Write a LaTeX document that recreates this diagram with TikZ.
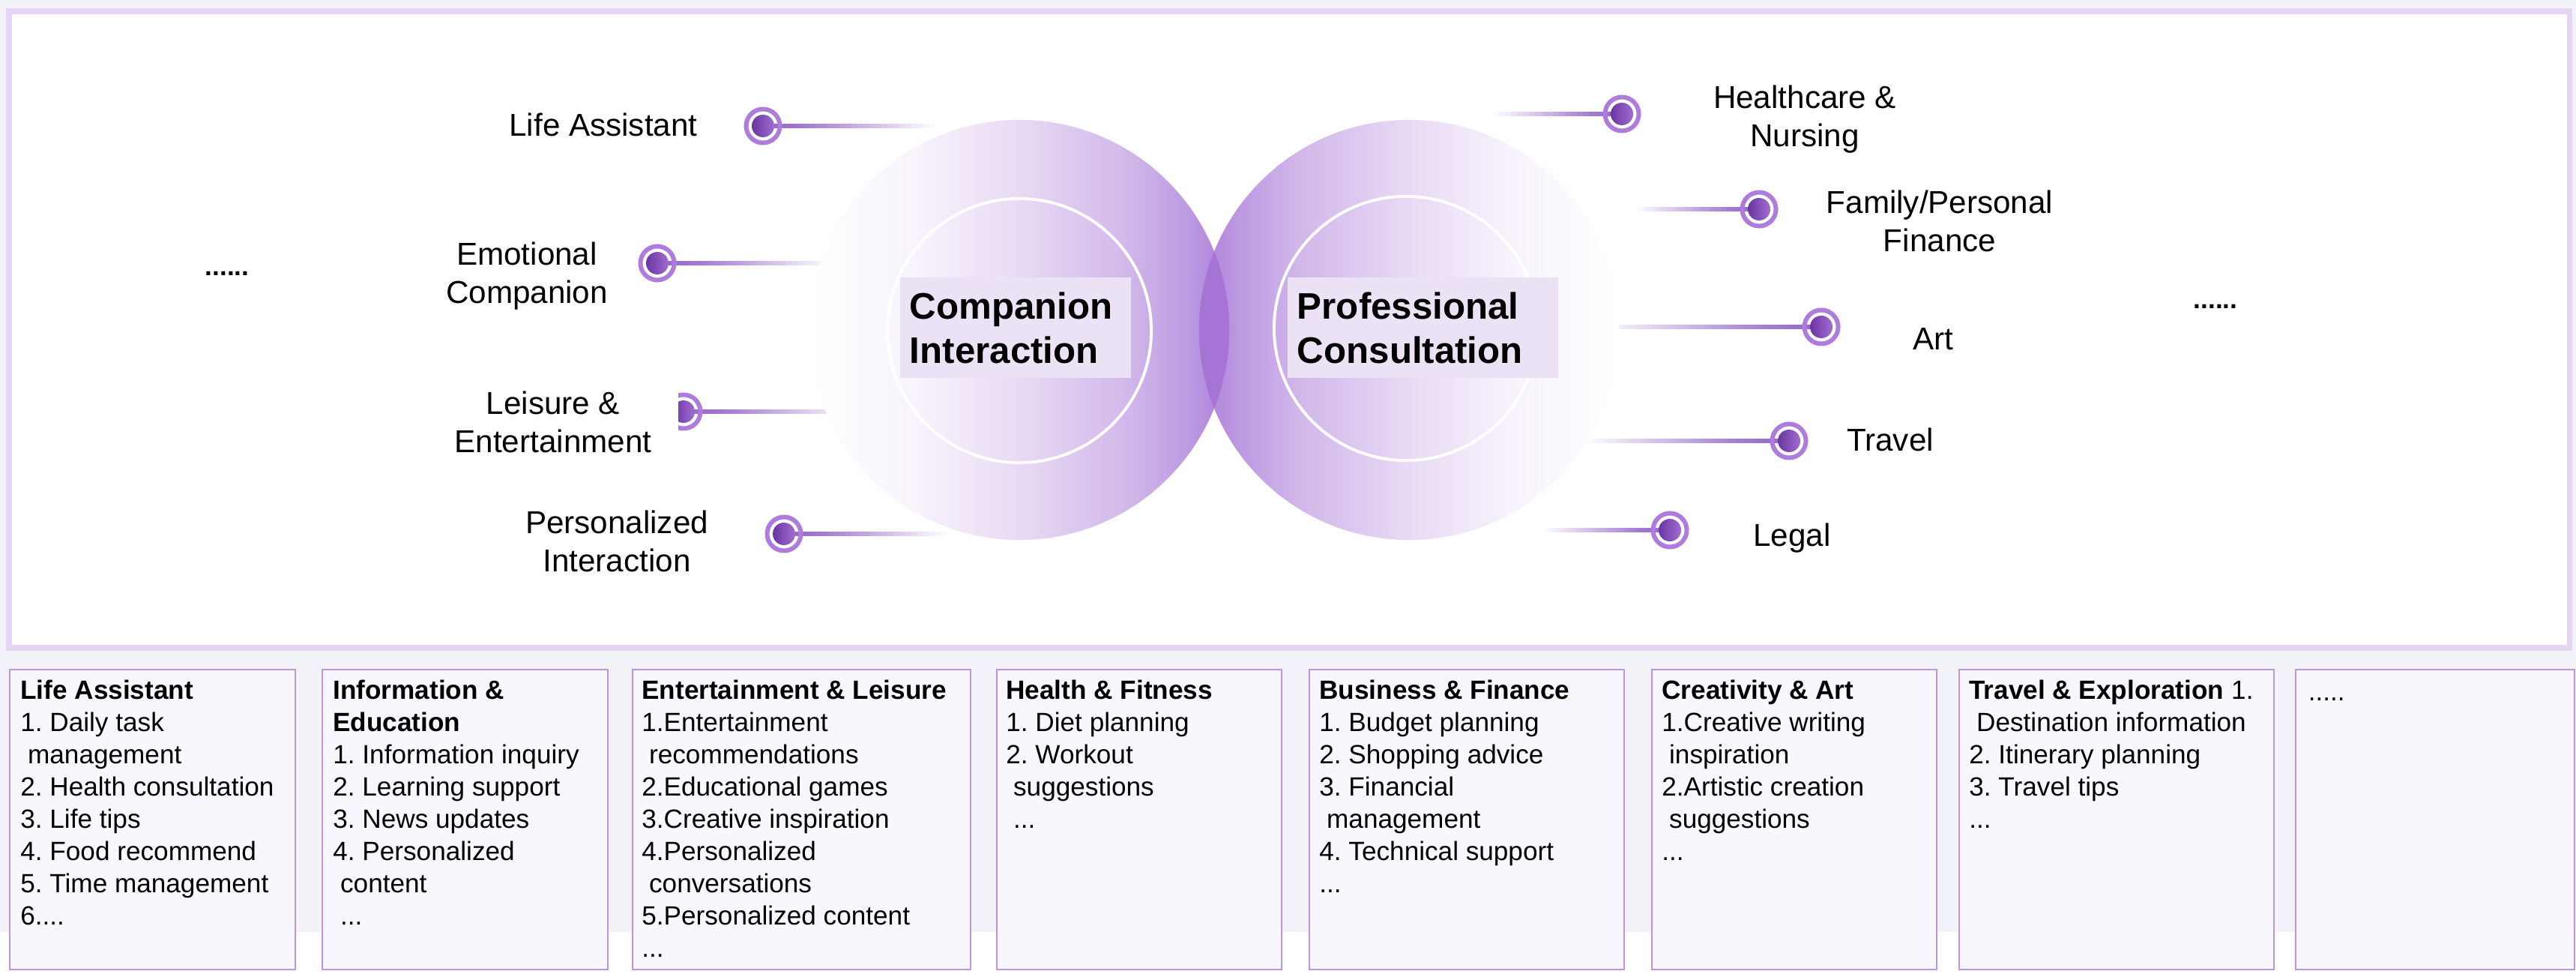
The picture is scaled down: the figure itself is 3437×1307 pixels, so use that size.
\documentclass[tikz,border=0pt]{standalone}
\usepackage{fontspec}
\setmainfont{Liberation Sans}
\frenchspacing
\usetikzlibrary{calc}
\definecolor{bgG}{HTML}{F2F2F9}
\definecolor{frameC}{HTML}{E5D4F3}
\definecolor{boxB}{HTML}{BE92E4}
\definecolor{boxF}{HTML}{F8F7FD}
\definecolor{lineP}{HTML}{9461C8}
\definecolor{lineQ}{HTML}{A57ED3}
\definecolor{ringP}{HTML}{AE7CDC}
\definecolor{dotL}{HTML}{6B35A2}
\definecolor{dotR}{HTML}{A06DD0}
\definecolor{lensC}{HTML}{A574D4}
\definecolor{lblBox}{HTML}{ECE2F6}
\definecolor{cA}{HTML}{F8F3FC}
\definecolor{cB}{HTML}{E8DAF4}
\definecolor{cC}{HTML}{D2B9EA}
\definecolor{cD}{HTML}{BE9AE2}
\definecolor{cE}{HTML}{AD7FDA}
\pgfdeclarehorizontalshading{circL}{100bp}{color(0bp)=(white); color(25bp)=(white); color(37.5bp)=(cA); color(50bp)=(cB); color(62.5bp)=(cC); color(70bp)=(cD); color(75bp)=(cE); color(100bp)=(cE)}
\pgfdeclarehorizontalshading{circR}{100bp}{color(0bp)=(cE); color(25bp)=(cE); color(30bp)=(cD); color(37.5bp)=(cC); color(50bp)=(cB); color(62.5bp)=(cA); color(75bp)=(white); color(100bp)=(white)}
\pgfdeclarehorizontalshading{fadeToR}{100bp}{color(0bp)=(lineP); color(25bp)=(lineP); color(38bp)=(lineQ); color(75bp)=(white); color(100bp)=(white)}
\pgfdeclarehorizontalshading{fadeToL}{100bp}{color(0bp)=(white); color(25bp)=(white); color(62bp)=(lineQ); color(75bp)=(lineP); color(100bp)=(lineP)}
\pgfdeclarelayer{back}
\pgfdeclarelayer{lines}
\pgfdeclarelayer{circ}
\pgfsetlayers{back,lines,circ,main}
\newcommand{\myind}{\hspace*{0.278em}}
\tikzset{
  lbl/.style={font=\fontsize{12}{14.5}\selectfont, inner sep=0pt, align=center},
  ctr/.style={font=\fontsize{14}{16.8}\selectfont\bfseries, fill=lblBox, inner xsep=0.13cm, inner ysep=0pt, align=left, minimum height=1.34cm},
  dotn/.style={circle, minimum size=0.30cm, inner sep=0pt, left color=dotL, right color=dotR},
  ringc/.style={draw=ringP, line width=1.7pt},
  tbox/.style={draw=boxB, fill=boxF, line width=0.7pt, minimum height=4cm, inner sep=0pt},
  btxt/.style={font=\fontsize{10}{12.2}\selectfont, inner sep=0pt, align=left, anchor=north west},
  moredots/.style={font=\fontsize{10}{12}\selectfont\bfseries, inner sep=0pt, anchor=base},
}
\begin{document}
\begin{tikzpicture}[x=0.01cm,y=-0.01cm]
\useasboundingbox (0,0) rectangle (3437,1307);
\begin{pgfonlayer}{back}
  \fill[bgG] (0,0) rectangle (3437,1243);
  \fill[white] (0,1243) rectangle (3437,1307);
  \draw[frameC, line width=2pt, fill=white] (12,15) rectangle (3428,864);
\end{pgfonlayer}

% central circles
\begin{pgfonlayer}{circ}
  \shade[shading=circL] (1360,440) circle (2.8cm);
  \shade[shading=circR] (1880,440) circle (2.8cm);
  \begin{scope}
    \clip (1360,440) circle (2.8cm);
    \fill[lensC] (1880,440) circle (2.8cm);
  \end{scope}
  \draw[white, line width=1.1pt] (1360,441) circle (1.76cm);
  \draw[white, line width=1.1pt] (1876,438) circle (1.76cm);
\end{pgfonlayer}

\node[ctr, text width=2.82cm] (cI) at (1355,437) {Companion\\Interaction};
\node[ctr, text width=3.35cm] (pC) at (1898.5,437) {Professional\\Consultation};

% dots
\node[dotn] (dLA) at (1018,168) {};
\node[dotn] (dEC) at (877,351) {};
\node[dotn] (dPI) at (1046,712) {};
\node[dotn] (dHN) at (2164,152) {};
\node[dotn] (dFP) at (2347,279) {};
\node[dotn] (dAR) at (2430,436) {};
\node[dotn] (dTR) at (2387,588) {};
\node[dotn] (dLG) at (2228,707) {};
\foreach \n in {LA,EC,PI,HN,FP,AR,TR,LG}{
  \draw[ringc] (d\n.center) circle (0.225cm);
}
\begin{scope}
  \clip (905,500) rectangle (960,600);
  \node[dotn] (dLE) at (912,549) {};
  \draw[ringc] (dLE.center) circle (0.225cm);
\end{scope}

% connector ends
\coordinate (eLA) at (1250,168);
\coordinate (eEC) at (1113,351);
\coordinate (eLE) at (1142,549);
\coordinate (ePI) at (1264,712);
\coordinate (eHN) at (1991,152);
\coordinate (eFP) at (2180,279);
\coordinate (eAR) at (2129,436);
\coordinate (eTR) at (2113,588);
\coordinate (eLG) at (2057,707);
\begin{pgfonlayer}{lines}
  \foreach \n in {LA,EC,LE,PI}{
    \shade[shading=fadeToR] ($(d\n.center)+(0,-2.5)$) rectangle ($(e\n)+(0,2.5)$);
  }
  \foreach \n in {HN,FP,AR,TR,LG}{
    \shade[shading=fadeToL] ($(e\n)+(0,-2.5)$) rectangle ($(d\n.center)+(0,2.5)$);
  }
\end{pgfonlayer}

% labels
\node[lbl, anchor=base] (lLA) at (805,182) {Life Assistant};
\node[lbl, anchor=north] (lEC) at (703,322) {Emotional\\Companion};
\node[lbl, anchor=north] (lLE) at (738,521) {Leisure \&\\Entertainment};
\node[lbl, anchor=north] (lPI) at (823,680) {Personalized\\Interaction};
\node[lbl, anchor=north] (lHN) at (2408,113) {Healthcare \&\\Nursing};
\node[lbl, anchor=north] (lFP) at (2588,253) {Family/Personal\\Finance};
\node[lbl, anchor=base] (lAR) at (2579,467) {Art};
\node[lbl, anchor=base] (lTR) at (2522,602) {Travel};
\node[lbl, anchor=base] (lLG) at (2391,729) {Legal};

\node[moredots] (mL) at (303,368) {......};
\node[moredots] (mR) at (2956,412) {......};

% bottom boxes
\node[tbox, minimum width=3.81cm] (b1) at (203.5,1093) {};
\node[tbox, minimum width=3.81cm] (b2) at (620.5,1093) {};
\node[tbox, minimum width=4.51cm] (b3) at (1069.5,1093) {};
\node[tbox, minimum width=3.80cm] (b4) at (1520,1093) {};
\node[tbox, minimum width=4.20cm] (b5) at (1957,1093) {};
\node[tbox, minimum width=3.80cm] (b6) at (2394,1093) {};
\node[tbox, minimum width=4.20cm] (b7) at (2824,1093) {};
\node[tbox, minimum width=3.72cm] (b8) at (3249,1093) {};

\node[btxt] (t1) at ($(b1.north west)+(15,15)$) {\textbf{Life Assistant}\\1. Daily task\\\myind management\\2. Health consultation\\3. Life tips\\4. Food recommend\\5. Time management\\6....};
\node[btxt] (t2) at ($(b2.north west)+(15,15)$) {\textbf{Information \&}\\\textbf{Education}\\1. Information inquiry\\2. Learning support\\3. News updates\\4. Personalized\\\myind content\\\myind ...};
\node[btxt] (t3) at ($(b3.north west)+(13,15)$) {\textbf{Entertainment \& Leisure}\\1.Entertainment\\\myind recommendations\\2.Educational games\\3.Creative inspiration\\4.Personalized\\\myind conversations\\5.Personalized content\\...};
\node[btxt] (t4) at ($(b4.north west)+(13,15)$) {\textbf{Health \& Fitness}\\1. Diet planning\\2. Workout\\\myind suggestions\\\myind ...};
\node[btxt] (t5) at ($(b5.north west)+(14,15)$) {\textbf{Business \& Finance}\\1. Budget planning\\2. Shopping advice\\3. Financial\\\myind management\\4. Technical support\\...};
\node[btxt] (t6) at ($(b6.north west)+(14,15)$) {\textbf{Creativity \& Art}\\1.Creative writing\\\myind inspiration\\2.Artistic creation\\\myind suggestions\\...};
\node[btxt] (t7) at ($(b7.north west)+(14,15)$) {\textbf{Travel \& Exploration} 1.\\\myind Destination information\\2. Itinerary planning\\3. Travel tips\\...};
\node[btxt, anchor=base west] (t8) at (3079,934) {.....};
\end{tikzpicture}
\end{document}
